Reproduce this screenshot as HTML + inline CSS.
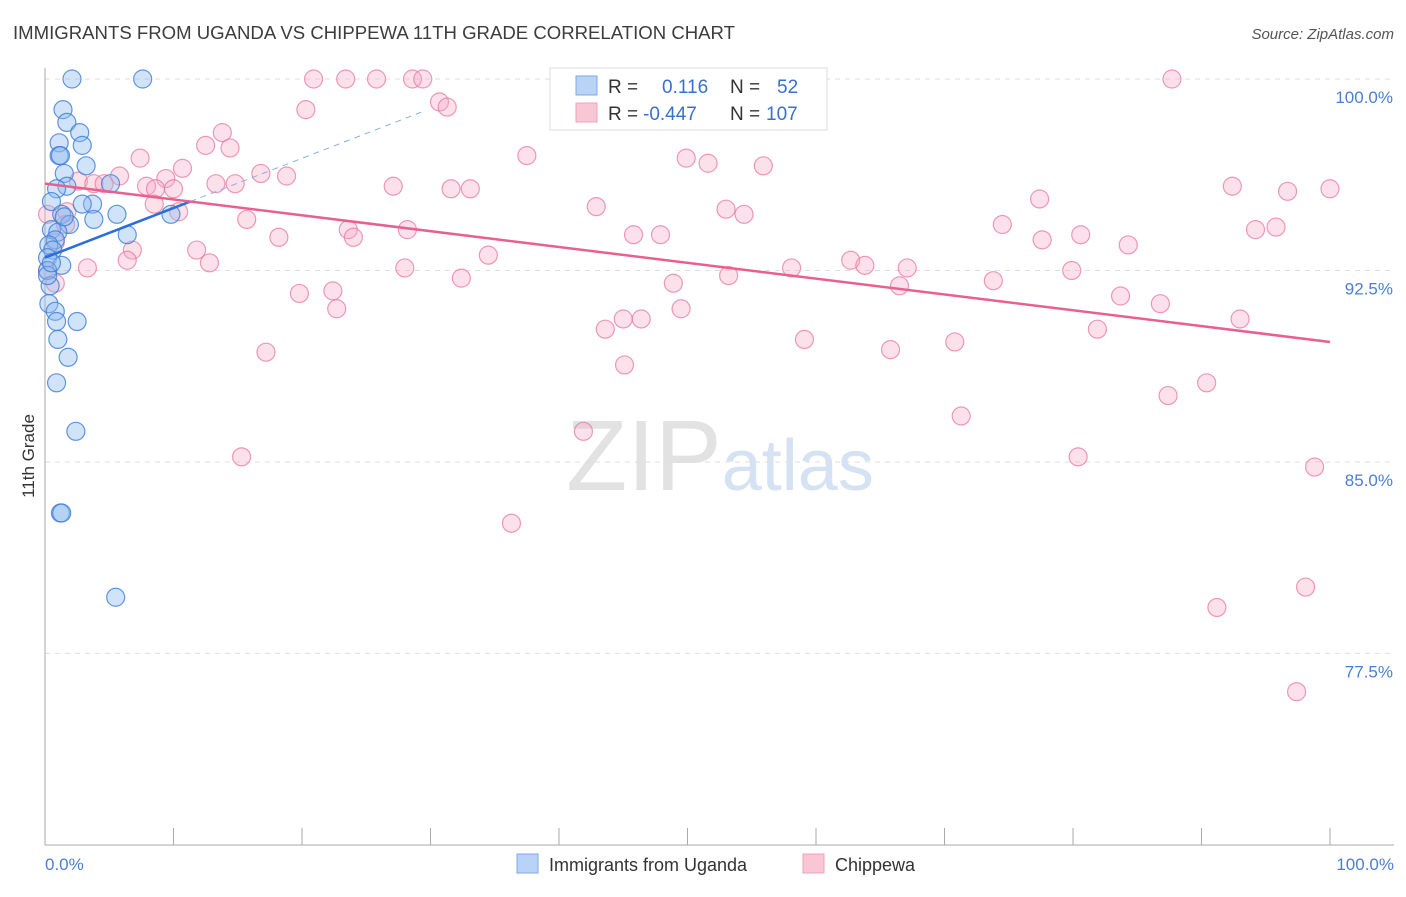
<!DOCTYPE html>
<html><head><meta charset="utf-8"><style>
body{margin:0;background:#fff;font-family:"Liberation Sans",sans-serif}
svg text{font-family:"Liberation Sans",sans-serif}
</style></head><body>
<svg id="chart" width="1406" height="892" xmlns="http://www.w3.org/2000/svg">
<text x="13" y="39" font-size="18" fill="#3c3c3c" textLength="722" lengthAdjust="spacingAndGlyphs">IMMIGRANTS FROM UGANDA VS CHIPPEWA 11TH GRADE CORRELATION CHART</text>
<text x="1394" y="39" font-size="15" fill="#555" font-style="italic" text-anchor="end">Source: ZipAtlas.com</text>
<text x="720" y="490" font-size="100" text-anchor="middle" fill="#e2e2e2" font-family="Liberation Serif">ZIP<tspan fill="#d4e2f3" font-family="Liberation Sans" font-size="72">atlas</tspan></text>
<g id="grid"></g>
<g id="axes"></g>
<g id="pts"></g>
<g id="trends"></g>
<text transform="translate(34,456) rotate(-90)" font-size="17" fill="#333" text-anchor="middle">11th Grade</text>
<text x="45" y="870" font-size="17" fill="#4a7fd4">0.0%</text>
<text x="1394" y="870" font-size="17" fill="#4a7fd4" text-anchor="end">100.0%</text>
<g>
<rect x="550" y="68" width="277" height="62" fill="#fff" stroke="#ddd"/>
<rect x="576" y="76" width="21" height="19" fill="#b8d3f5" stroke="#7eaae6"/>
<rect x="576" y="103" width="21" height="19" fill="#f9c6d5" stroke="#eea0b9"/>
<text x="608" y="93" font-size="19" fill="#333">R = <tspan x="662" fill="#3a70cc">0.116</tspan><tspan x="730" fill="#333">N =</tspan><tspan x="777" fill="#3a70cc">52</tspan></text>
<text x="608" y="120" font-size="19" fill="#333">R = <tspan x="643" fill="#3a70cc">-0.447</tspan><tspan x="730" fill="#333">N =</tspan><tspan x="766" fill="#3a70cc">107</tspan></text>
</g>
<g>
<rect x="517" y="854" width="21" height="19" fill="#b8d3f5" stroke="#7eaae6"/>
<text x="549" y="871" font-size="18" fill="#333">Immigrants from Uganda</text>
<rect x="803" y="854" width="21" height="19" fill="#f9c6d5" stroke="#eea0b9"/>
<text x="835" y="871" font-size="18" fill="#333">Chippewa</text>
</g>
</svg>
<script>
const yTicks=[100,92.5,85,77.5];
const yTickLabels=["100.0%","92.5%","85.0%","77.5%"];
const xTicks=[0,10,20,30,40,50,60,70,80,90,100];
const ugandaX=[2.1,7.6,1.4,1.7,2.7,1.1,2.9,1.1,1.2,3.2,1.5,1.7,0.9,5.1,0.5,3.7,2.9,1.3,3.8,5.6,9.8,1.9,0.5,1.0,6.4,0.8,0.3,0.6,0.2,1.3,0.2,0.4,0.3,0.8,0.9,2.5,1.0,1.8,0.9,2.4,1.2,1.3,5.5,0.2,0.5,1.5];
const ugandaY=[100,100,98.8,98.3,97.9,97.5,97.4,97.0,97.0,96.6,96.3,95.8,95.7,95.9,95.2,95.1,95.1,94.7,94.5,94.7,94.7,94.3,94.1,94.0,93.9,93.7,93.5,93.3,93.0,92.7,92.5,91.9,91.2,90.9,90.5,90.5,89.8,89.1,88.1,86.2,83.0,83.0,79.7,92.3,92.8,94.6];
const chippewaX=[20.9,23.4,25.8,28.6,29.4,87.7,30.7,31.3,20.3,13.8,12.5,14.4,7.4,37.5,49.9,51.6,55.9,10.7,16.8,18.8,5.8,9.4,2.6,3.8,4.6,13.3,14.8,7.9,8.6,10.0,27.1,31.6,33.1,92.4,96.7,100,77.4,8.5,10.4,1.7,42.9,53.0,54.4,15.7,74.5,94.2,95.8,23.6,28.2,24.0,18.2,45.8,47.9,80.6,77.6,6.8,11.8,84.3,34.5,6.4,12.8,62.7,63.8,3.3,58.1,67.1,28.0,79.9,53.2,32.4,73.8,48.9,66.5,22.4,19.8,83.7,86.8,22.7,49.5,45.0,46.4,93.0,43.6,81.9,59.1,70.8,65.8,17.2,45.1,90.4,87.4,71.3,41.9,15.3,80.4,98.8,36.3,98.1,91.2,97.4,0.2,0.8,0.2,0.8,1.6];
const chippewaY=[100,100,100,100,100,100,99.1,98.9,98.8,97.9,97.4,97.3,96.9,97.0,96.9,96.7,96.6,96.5,96.3,96.2,96.2,96.1,96.0,95.9,95.9,95.9,95.9,95.8,95.7,95.7,95.8,95.7,95.7,95.8,95.6,95.7,95.3,95.1,94.8,94.8,95.0,94.9,94.7,94.5,94.3,94.1,94.2,94.1,94.1,93.8,93.8,93.9,93.9,93.9,93.7,93.3,93.3,93.5,93.1,92.9,92.8,92.9,92.7,92.6,92.6,92.6,92.6,92.5,92.3,92.2,92.1,92.0,91.9,91.7,91.6,91.5,91.2,91.0,91.0,90.6,90.6,90.6,90.2,90.2,89.8,89.7,89.4,89.3,88.8,88.1,87.6,86.8,86.2,85.2,85.2,84.8,82.6,80.1,79.3,76.0,92.5,92.0,94.7,93.6,94.3];
const ugandaTrend=[93.0,95.2];
const ugandaTrendX=[0,11.3,29.4];
const chippewaTrend=[95.9,89.7];

const NS="http://www.w3.org/2000/svg";
const X=v=>45+v*12.85;
const Y=v=>79+(100-v)*25.53;
function mk(tag,attrs,parent){const e=document.createElementNS(NS,tag);for(const k in attrs)e.setAttribute(k,attrs[k]);document.getElementById(parent).appendChild(e);return e;}

yTicks.forEach((t,i)=>{
  const l=mk('line',{x1:45,x2:1394,y1:Y(t),y2:Y(t),stroke:'#ddd','stroke-dasharray':'5,5'},'grid');
  
  
  const tx=mk('text',{x:1393,y:Y(t)+24,'font-size':17,fill:'#4a7fd4','text-anchor':'end'},'grid');
  tx.textContent=yTickLabels[i];
  
  
});
const ya=mk('line',{x1:45,x2:45,y1:68,y2:845,stroke:'#aaa'},'axes');


const xa=mk('line',{x1:45,x2:1394,y1:845,y2:845,stroke:'#aaa'},'axes');


xTicks.forEach(t=>{
  const l=mk('line',{x1:X(t),x2:X(t),y1:828,y2:845,stroke:'#aaa'},'axes');
  
  
});
chippewaX.forEach((x,i)=>{
  const c=mk('circle',{cx:X(x),cy:Y(chippewaY[i]),r:9,fill:'rgba(246,170,195,0.35)',stroke:'rgba(232,120,160,0.75)','stroke-width':1.2},'pts');
  
  
});
ugandaX.forEach((x,i)=>{
  const c=mk('circle',{cx:X(x),cy:Y(ugandaY[i]),r:9,fill:'rgba(140,185,240,0.4)',stroke:'rgba(60,125,215,0.8)','stroke-width':1.2},'pts');
  
  
});
const slope=(ugandaTrend[1]-ugandaTrend[0])/(ugandaTrendX[1]-ugandaTrendX[0]);
const ub=mk('line',{x1:X(ugandaTrendX[1]),y1:Y(ugandaTrend[1]),x2:X(ugandaTrendX[2]),y2:Y(ugandaTrend[0]+slope*ugandaTrendX[2]),stroke:'#8ab0e0','stroke-width':1,'stroke-dasharray':'6,5'},'trends');


const ua=mk('line',{x1:X(0),y1:Y(ugandaTrend[0]),x2:X(ugandaTrendX[1]),y2:Y(ugandaTrend[1]),stroke:'#2a6fd6','stroke-width':2.5},'trends');


const ct=mk('line',{x1:X(0),y1:Y(chippewaTrend[0]),x2:X(100),y2:Y(chippewaTrend[1]),stroke:'#e8608f','stroke-width':2.5},'trends');


</script>
</body></html>
